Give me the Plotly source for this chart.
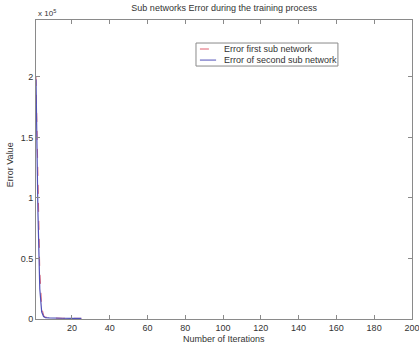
import plotly.graph_objects as go

# Data (values in units of 10^5)
iters_first = [1, 2, 3, 4, 5, 6, 8, 10, 15, 20, 25]
err_first = [2.0, 1.1, 0.4, 0.1, 0.03, 0.015, 0.01, 0.008, 0.006, 0.005, 0.005]
iters_second = [1, 2, 3, 4, 5, 6, 8, 10, 15, 20, 25]
err_second = [1.98, 0.9, 0.25, 0.06, 0.02, 0.012, 0.009, 0.007, 0.006, 0.005, 0.005]

xticks = [20, 40, 60, 80, 100, 120, 140, 160, 180, 200]
yticks = [0, 0.5, 1, 1.5, 2]
names = ["Error first sub network", "Error of second sub network"]
colors = ["#e06070", "#5050b8"]

font = "Liberation Sans, Arial, sans-serif"
axcol = "#8a8a8a"
txt = "#333"

fig = go.Figure()
fig.add_trace(go.Scatter(x=iters_first, y=err_first, mode="lines", name=names[0],
                         line=dict(color=colors[0], width=1, dash="dash")))
fig.add_trace(go.Scatter(x=iters_second, y=err_second, mode="lines", name=names[1],
                         line=dict(color=colors[1], width=1.2)))

fig.update_layout(
    width=419, height=344,
    margin=dict(l=36, r=7, t=20, b=25),
    paper_bgcolor="white", plot_bgcolor="white",
    font=dict(family=font, size=9, color=txt),
    title=dict(text="Sub networks Error during the training process",
               x=0.535, xanchor="center", y=0.985, yanchor="top",
               font=dict(size=9, color=txt)),
    showlegend=False,
    xaxis=dict(range=[1, 200.05], tickvals=xticks, ticks="inside", ticklen=4,
               tickcolor=axcol, showline=True, linecolor=axcol, linewidth=1,
               mirror="ticks", showgrid=False, zeroline=False, automargin=False,
               ticklabeloverflow="allow",
               tickfont=dict(size=9, color=txt)),
    yaxis=dict(range=[0, 2.47], tickvals=yticks, ticktext=["0", "0.5", "1", "1.5", "2"],
               ticks="inside", ticklen=4,
               tickcolor=axcol, showline=True, linecolor=axcol, linewidth=1,
               mirror="ticks", showgrid=False, zeroline=False, automargin=False,
               tickfont=dict(size=9, color=txt)),
)

# axis titles
fig.add_annotation(text="Number of Iterations", xref="paper", yref="paper",
                   x=0.5, y=-0.045, xanchor="center", yanchor="top",
                   showarrow=False, font=dict(size=9, color=txt))
fig.add_annotation(text="Error Value", xref="paper", yref="paper",
                   x=-0.05, y=0.515, xanchor="right", yanchor="middle", textangle=-90,
                   showarrow=False, font=dict(size=9, color=txt))
# exponent
fig.add_annotation(text="x 10<sup>5</sup>", xref="paper", yref="paper",
                   x=0.0, y=1.0, xanchor="left", yanchor="bottom",
                   showarrow=False, font=dict(size=8, color=txt))

# legend box drawn manually
fig.add_shape(type="rect", xref="paper", yref="paper", x0=0.4255, x1=0.803, y0=0.846, y1=0.923,
              line=dict(color=axcol, width=1), fillcolor="white")
leg_y = [0.903, 0.866]
dashes = ["dash", "solid"]
for name, col, yy, d in zip(names, colors, leg_y, dashes):
    fig.add_shape(type="line", xref="paper", yref="paper", x0=0.436, x1=0.479, y0=yy, y1=yy,
                  line=dict(color=col, width=1, dash=d))
    fig.add_annotation(text=name, xref="paper", yref="paper", x=0.495, y=yy,
                       xanchor="left", yanchor="middle", showarrow=False,
                       font=dict(size=9, color=txt))

fig.write_html("out.html", config={"displayModeBar": False},
               post_script="document.body.style.margin='0';document.body.style.overflow='hidden';")
